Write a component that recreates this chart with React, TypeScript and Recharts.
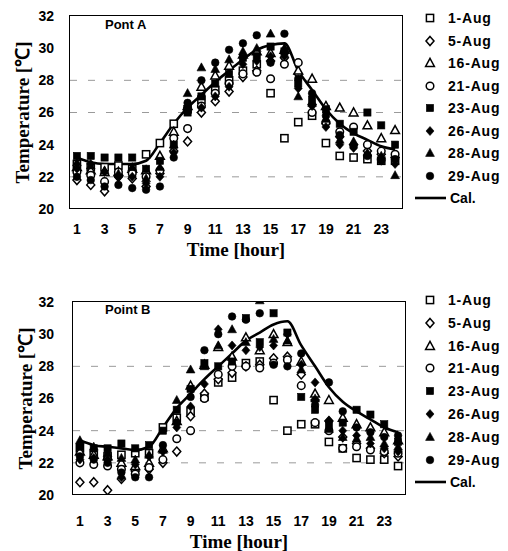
import React from 'react';
import { ComposedChart, Scatter, Line, XAxis, YAxis, CartesianGrid } from 'recharts';

const HOURS = [1, 2, 3, 4, 5, 6, 7, 8, 9, 10, 11, 12, 13, 14, 15, 16, 17, 18, 19, 20, 21, 22, 23, 24];
const X_TICKS = [1, 3, 5, 7, 9, 11, 13, 15, 17, 19, 21, 23];
const Y_TICKS = [20, 22, 24, 26, 28, 30, 32];
const DAYS = ['1-Aug', '5-Aug', '16-Aug', '21-Aug', '23-Aug', '26-Aug', '28-Aug', '29-Aug'];

// Point A
const A_CAL = [23.2, 22.9, 22.8, 22.8, 22.8, 23.0, 24.1, 25.3, 26.3, 27.1, 27.9, 28.6, 29.3, 29.9, 30.2, 30.3, 28.6, 27.4, 26.2, 25.3, 24.7, 24.3, 23.9, 23.7];
const A_AUG01 = [22.8, 22.6, 22.6, 22.7, 22.5, 23.4, 24.1, 25.3, 26.2, 26.8, 27.4, 28.0, 28.6, 29.0, 27.2, 24.4, 25.4, 25.8, 24.1, 23.3, 23.2, 23.1, 23.0, 23.0];
const A_AUG05 = [21.8, 21.5, 21.1, 22.0, 21.9, 21.4, 22.2, 23.6, 24.2, 26.0, 26.7, 27.3, 28.2, 28.6, 29.2, 29.4, 28.4, 26.5, 25.3, 24.5, 24.0, 23.6, 23.4, 23.2];
const A_AUG16 = [22.6, 22.4, 22.3, 22.3, 22.5, 22.4, 23.3, 24.8, 26.4, 27.6, 28.3, 28.9, 29.6, 29.8, 29.7, 29.9, 28.6, 28.1, 26.4, 26.3, 26.0, 25.2, 24.4, 24.9];
const A_AUG21 = [22.3, 22.1, 21.7, 22.3, 22.2, 22.0, 22.4, 24.4, 25.0, 26.4, 27.2, 27.8, 28.4, 28.5, 28.1, 29.0, 29.1, 26.0, 25.4, 24.8, 25.1, 24.0, 23.6, 23.4];
const A_AUG23 = [23.3, 23.3, 23.2, 23.2, 23.2, 22.5, 23.0, 24.0, 26.0, 27.0, 27.8, 28.4, 29.4, 29.5, 30.1, 29.8, 27.8, 26.8, 26.2, 25.3, 24.8, 26.0, 25.2, 24.0];
const A_AUG26 = [22.5, 22.8, 22.3, 22.0, 22.0, 21.6, 22.0, 23.5, 26.3, 26.3, 27.0, 27.6, 29.0, 29.2, 29.5, 29.5, 27.5, 26.4, 25.1, 24.0, 23.8, 23.4, 23.0, 22.8];
const A_AUG28 = [22.9, 22.7, 22.4, 22.2, 22.6, 21.9, 22.6, 24.0, 27.2, 28.8, 28.7, 29.3, 29.8, 30.0, 30.9, 30.0, 27.0, 26.6, 25.6, 24.3, 24.2, 23.5, 23.3, 22.1];
const A_AUG29 = [22.0, 21.8, 21.4, 21.5, 21.3, 21.2, 21.4, 23.2, 26.6, 28.0, 29.1, 29.9, 30.3, 30.8, 29.1, 30.9, 28.1, 27.2, 25.8, 24.6, 23.9, 23.3, 23.0, 23.1];

// Point B
const B_CAL = [23.4, 23.1, 23.0, 22.9, 22.8, 23.0, 24.2, 25.4, 26.3, 27.2, 28.0, 28.8, 29.6, 30.1, 30.6, 30.8, 29.3, 28.0, 26.7, 25.8, 25.2, 24.7, 24.2, 23.9];
const B_AUG01 = [22.9, 22.5, 22.4, 22.5, 22.6, 22.6, 24.2, 24.8, 25.2, 26.1, 27.0, 27.3, 28.2, 28.3, 25.9, 24.0, 24.4, 24.4, 23.3, 22.9, 22.3, 22.2, 22.2, 21.8];
const B_AUG05 = [20.8, 20.8, 20.3, 21.0, 21.5, 21.6, 22.0, 22.7, 24.9, 26.3, 27.2, 27.6, 28.0, 28.1, 28.5, 28.6, 27.5, 25.9, 24.6, 23.6, 23.2, 22.9, 22.6, 22.4];
const B_AUG16 = [22.7, 22.5, 22.4, 22.0, 21.8, 22.0, 22.9, 24.6, 26.8, 28.1, 29.2, 28.6, 29.8, 29.0, 30.0, 29.5, 28.3, 26.3, 25.9, 24.8, 24.4, 24.2, 23.9, 23.4];
const B_AUG21 = [22.0, 21.9, 21.8, 21.6, 21.3, 21.7, 22.2, 23.5, 24.0, 26.0, 27.5, 28.0, 28.0, 27.9, 28.2, 28.4, 26.8, 24.5, 24.0, 22.9, 23.0, 22.8, 22.7, 22.6];
const B_AUG23 = [23.0, 22.9, 22.9, 23.2, 22.9, 23.1, 24.0, 25.3, 26.6, 28.2, 28.0, 28.3, 31.0, 29.5, 31.3, 30.1, 26.1, 25.3, 24.3, 24.5, 25.3, 25.0, 24.4, 23.3];
const B_AUG26 = [22.2, 22.3, 22.2, 21.1, 21.9, 22.4, 22.7, 24.2, 25.5, 26.9, 30.3, 29.3, 29.0, 29.2, 29.3, 30.0, 28.1, 27.0, 24.6, 24.0, 23.7, 23.2, 22.9, 22.7];
const B_AUG28 = [23.4, 23.0, 22.6, 22.3, 22.2, 22.5, 22.8, 25.9, 27.8, 28.0, 29.3, 30.3, 29.5, 32.1, 29.7, 29.6, 27.8, 26.0, 24.1, 23.6, 23.5, 23.6, 23.2, 23.0];
const B_AUG29 = [22.4, 22.2, 22.0, 21.4, 21.1, 21.1, 23.1, 24.5, 26.1, 29.0, 30.0, 31.1, 30.9, 31.3, 28.1, 28.0, 28.8, 25.6, 27.0, 25.2, 24.2, 23.9, 23.6, 23.7];

const A_SERIES = [A_AUG01, A_AUG05, A_AUG16, A_AUG21, A_AUG23, A_AUG26, A_AUG28, A_AUG29];
const B_SERIES = [B_AUG01, B_AUG05, B_AUG16, B_AUG21, B_AUG23, B_AUG26, B_AUG28, B_AUG29];

type Kind = 'square' | 'diamond' | 'triangle' | 'circle';

const MARKERS: { kind: Kind; filled: boolean }[] = [
  { kind: 'square', filled: false },
  { kind: 'diamond', filled: false },
  { kind: 'triangle', filled: false },
  { kind: 'circle', filled: false },
  { kind: 'square', filled: true },
  { kind: 'diamond', filled: true },
  { kind: 'triangle', filled: true },
  { kind: 'circle', filled: true },
];

const SANS = '"Liberation Sans", Arial, sans-serif';
const SERIF = '"Liberation Serif", "Times New Roman", serif';

const Mark = ({ cx, cy, kind, filled }: { cx: number; cy: number; kind: Kind; filled: boolean }) => {
  const fill = filled ? '#000' : '#fff';
  const sw = filled ? 0.6 : 1.5;
  if (kind === 'square') {
    return <rect x={cx - 3.6} y={cy - 3.6} width={7.2} height={7.2} fill={fill} stroke="#000" strokeWidth={sw} />;
  }
  if (kind === 'diamond') {
    return <path d={`M${cx},${cy - 4.5}L${cx + 4},${cy}L${cx},${cy + 4.5}L${cx - 4},${cy}Z`} fill={fill} stroke="#000" strokeWidth={sw} />;
  }
  if (kind === 'triangle') {
    return <path d={`M${cx},${cy - 4.6}L${cx + 4.4},${cy + 3.4}L${cx - 4.4},${cy + 3.4}Z`} fill={fill} stroke="#000" strokeWidth={sw} />;
  }
  return <circle cx={cx} cy={cy} r={3.8} fill={fill} stroke="#000" strokeWidth={sw} />;
};

interface PanelProps {
  title: string;
  titleY: number;
  cal: number[];
  series: number[][];
  gridValues: number[];
  top: number;
  left: number;
  tickGap: number;
  yTickGap: number;
  titleSpace: number;
  legendTop: number;
  legendStep: number;
}

const Panel = ({ title, titleY, cal, series, gridValues, top, left, tickGap, yTickGap, titleSpace, legendTop, legendStep }: PanelProps) => {
  const calData = HOURS.map((h, i) => ({ hour: h, temp: cal[i] }));
  const height = 16 + 193 + titleSpace + 4;
  return (
    <div style={{ position: 'absolute', left, top, width: 508 - left, height }}>
      <ComposedChart
        width={410}
        height={height}
        data={calData}
        margin={{ top: 16, right: 8, bottom: 4, left: 10 }}
      >
        <CartesianGrid vertical={false} horizontalValues={gridValues} stroke="#9a9a9a" strokeDasharray="7 11" />
        <XAxis
          dataKey="hour"
          type="number"
          domain={[0.5, 24.5]}
          ticks={X_TICKS}
          allowDataOverflow
          axisLine={false}
          tickLine={false}
          tickSize={0}
          tickMargin={tickGap}
          height={titleSpace}
          interval={0}
          tick={{ fill: '#000', fontSize: 14, fontWeight: 700, fontFamily: SANS }}
          label={{ value: 'Time [hour]', position: 'insideBottom', offset: 0, fill: '#000', fontSize: 19, fontWeight: 700, fontFamily: SERIF }}
        />
        <YAxis
          dataKey="temp"
          type="number"
          domain={[20, 32]}
          ticks={Y_TICKS}
          allowDataOverflow
          width={60}
          axisLine={false}
          tickLine={false}
          tickSize={0}
          tickMargin={yTickGap}
          interval={0}
          tick={{ fill: '#000', fontSize: 14, fontWeight: 700, fontFamily: SANS }}
          label={{ value: 'Temperature [℃]', angle: -90, position: 'insideLeft', offset: 12, fill: '#000', fontSize: 19, fontWeight: 700, fontFamily: SERIF, style: { textAnchor: 'middle' } }}
        />
        {series.map((vals, i) => (
          <Scatter
            key={DAYS[i]}
            name={DAYS[i]}
            data={HOURS.map((h, j) => ({ hour: h, temp: vals[j] }))}
            dataKey="temp"
            isAnimationActive={false}
            shape={(p: any) => <Mark cx={p.cx} cy={p.cy} kind={MARKERS[i].kind} filled={MARKERS[i].filled} />}
          />
        ))}
        <Line type="monotone" dataKey="temp" name="Cal." stroke="#000" strokeWidth={2.6} dot={false} activeDot={false} isAnimationActive={false} />
      </ComposedChart>
      {/* plot frame */}
      <div style={{ position: 'absolute', left: 69, top: 15, width: 332, height: 192, border: '1.5px solid #000', pointerEvents: 'none' }} />
      <div style={{ position: 'absolute', left: 105 - left, top: titleY - top - 8, fontFamily: SANS, fontSize: 13, fontWeight: 700, lineHeight: '16px' }}>
        {title}
      </div>
      {DAYS.map((d, i) => (
        <div key={d} style={{ position: 'absolute', left: 422 - left, top: legendTop - top + i * legendStep - 8, height: 16, display: 'flex', alignItems: 'center' }}>
          <svg width={16} height={16}>
            <Mark cx={8} cy={8} kind={MARKERS[i].kind} filled={MARKERS[i].filled} />
          </svg>
          <span style={{ marginLeft: 10, fontFamily: SANS, fontSize: 14, fontWeight: 700, letterSpacing: 0.8, lineHeight: '16px' }}>{d}</span>
        </div>
      ))}
      <div style={{ position: 'absolute', left: 415 - left, top: legendTop - top + 8 * legendStep - 8, height: 16, display: 'flex', alignItems: 'center' }}>
        <svg width={31} height={16}>
          <line x1={0} y1={8} x2={31} y2={8} stroke="#000" strokeWidth={2.6} />
        </svg>
        <span style={{ marginLeft: 4, fontFamily: SANS, fontSize: 14, fontWeight: 700, lineHeight: '16px' }}>Cal.</span>
      </div>
    </div>
  );
};

const App = () => {
  return (
    <div style={{ position: 'absolute', left: 0, top: 0, width: 508, height: 551, background: '#fff', overflow: 'hidden' }}>
      <Panel
        title="Pont A"
        titleY={25}
        cal={A_CAL}
        series={A_SERIES}
        gridValues={[22, 26, 28]}
        top={0}
        left={0}
        tickGap={15}
        yTickGap={16}
        titleSpace={47}
        legendTop={18}
        legendStep={22.5}
      />
      <Panel
        title="Point B"
        titleY={310}
        cal={B_CAL}
        series={B_SERIES}
        gridValues={[22, 24, 28]}
        top={286}
        left={3}
        tickGap={21}
        yTickGap={19}
        titleSpace={53}
        legendTop={300}
        legendStep={22.8}
      />
    </div>
  );
};

export default App;
